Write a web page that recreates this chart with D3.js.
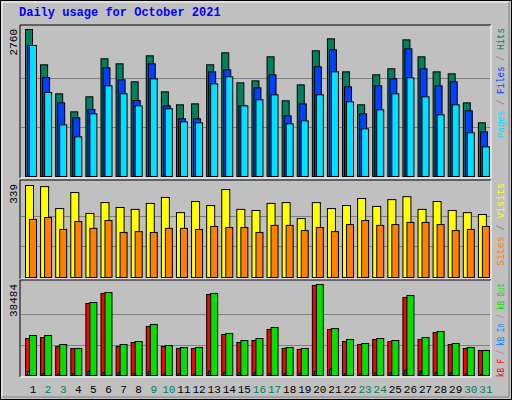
<!DOCTYPE html>
<html><head><meta charset="utf-8">
<script src="https://cdn.jsdelivr.net/npm/d3@7"></script>
<style>body{margin:0;background:#fff}</style></head>
<body><svg id="c" width="512" height="400"></svg>
<script>
const days = d3.range(1,32);
const weekend = [2,3,9,10,16,17,23,24,30,31];
const hits  = [2760,2097,1552,1214,1496,2210,2116,1778,2266,1590,1346,1364,2097,2322,1759,1796,2247,1421,1721,2360,2585,1965,1346,1909,2022,2566,2247,1965,1928,1383,1008];
const files = [2460,1859,1383,1102,1258,2040,1815,1427,2116,1327,1083,1083,1965,2003,1327,1665,1909,1139,1364,2059,2379,1684,1177,1702,1834,2397,2022,1702,1778,1233,839];
const pages = [2460,1577,970,745,1177,1702,1552,1327,1834,1271,1027,1008,1740,1872,1327,1440,1534,989,1045,1534,1965,1402,895,1252,1552,1853,1496,1158,1346,820,557];
const visits= [339,335,254,313,236,276,258,251,273,295,239,280,265,324,251,247,273,276,217,276,254,265,291,262,287,298,251,280,247,239,232];
const sites = [214,221,177,206,181,210,166,169,166,181,181,177,188,184,184,166,192,192,173,184,169,195,210,192,195,203,203,195,173,177,188];
const kbF   = [15650,16070,12270,11420,30450,34690,12270,13960,20730,12270,11420,11420,34260,17340,13960,14800,19460,11420,11000,38070,19460,14380,13110,15230,14380,32990,15230,18190,13110,11420,10580];
const kbIn  = [1700,900,700,800,1800,1300,1300,800,1700,700,700,700,1800,1300,1200,1200,800,700,1000,1600,2700,700,700,1000,1100,2200,1800,1300,1200,700,300];
const kbOut = [16920,16920,13110,11420,30880,35110,13110,14380,21570,12690,11840,11840,34690,17770,14800,15650,20300,11840,11420,38484,19880,15230,13540,15650,14800,33840,16070,18610,13540,11840,10580];

const svg = d3.select('#c');
const font = "'Liberation Mono', 'DejaVu Sans Mono', monospace";
svg.append('rect').attr('x',0.5).attr('y',0.5).attr('width',511).attr('height',399).attr('fill','#c0c0c0').attr('stroke','#000');
svg.append('path').attr('d','M2,397V2H509').attr('stroke','#fff').attr('fill','none');
svg.append('path').attr('d','M2,397H509V2').attr('stroke','#808080').attr('fill','none');
svg.append('text').attr('x',19).attr('y',16).attr('font-family',font).attr('font-weight','bold').attr('font-size',12).attr('fill','#0000ff').text('Daily usage for October 2021');

const x = d3.scaleBand().domain(days).range([25,493]).paddingInner(0);
const L=20,R=491;
function panel(y0,y1,max,series,legend,ylabel,len){
  svg.append('path').attr('d',`M${L},${y1}V${y0}H${R}`).attr('stroke','#000').attr('fill','none');
  svg.append('path').attr('d',`M${L},${y1}H${R}V${y0}`).attr('stroke','#fff').attr('fill','none');
  const base=y1-2, top=base-(max.h);
  const y = d3.scaleLinear().domain([0,max.v]).range([base,top]);
  [1,2].forEach(k=>{
    const gy = Math.round(y(max.v*k/3))+0.5;
    svg.append('line').attr('x1',L+1).attr('x2',R-1).attr('y1',gy).attr('y2',gy).attr('stroke','#808080');
  });
  series.forEach(s=>{
    svg.append('g').selectAll('rect').data(s.data).join('rect')
      .attr('x',(d,i)=>x(days[i])+s.off+0.5).attr('width',s.w)
      .attr('y',d=>y(d)+0.5).attr('height',d=>Math.max(0,base-y(d)))
      .attr('fill',s.c).attr('stroke','#000');
  });
  svg.append('text').attr('transform',`translate(17,${y0+4}) rotate(-90)`).attr('text-anchor','end')
    .attr('font-family',font).attr('font-size',11).attr('fill','#000').text(ylabel);
  const t = svg.append('text').attr('transform',`translate(504,${y0+3}) rotate(-90)`).attr('text-anchor','end')
    .attr('font-family',font).attr('font-size',10).attr('textLength',len).attr('lengthAdjust','spacingAndGlyphs');
  legend.forEach(([s,c])=>t.append('tspan').attr('fill',c).text(s));
}
panel(25,178,{v:2760,h:147},[
  {data:hits,c:'#00805c',off:0,w:7},
  {data:files,c:'#0040ff',off:2,w:7},
  {data:pages,c:'#00e0ff',off:4,w:7}],
  [['Pages','#00e0ff'],[' / ','#808080'],['Files','#0040ff'],[' / ','#808080'],['Hits','#00805c']],'2760',110);
panel(180,279,{v:339,h:92},[
  {data:visits,c:'#ffff00',off:0,w:8},
  {data:sites,c:'#ff8000',off:4,w:7}],
  [['Sites','#ff8000'],[' / ','#808080'],['Visits','#ffff00']],'339',83);
panel(280,377,{v:38484,h:91},[
  {data:kbF,c:'#ff0000',off:0,w:7},
  {data:kbIn,c:'#0080ff',off:2,w:2},
  {data:kbOut,c:'#00e000',off:4,w:7}],
  [['kB F','#ff0000'],[' / ','#808080'],['kB In','#0080ff'],[' / ','#808080'],['kB Out','#00e000']],'38484',94);

svg.append('g').selectAll('text').data(days).join('text')
  .attr('x',d=>x(d)+8).attr('y',393).attr('text-anchor','middle')
  .attr('font-family',font).attr('font-size',11)
  .attr('fill',d=>weekend.includes(d)?'#00805c':'#000').text(d=>d);
</script></body></html>
